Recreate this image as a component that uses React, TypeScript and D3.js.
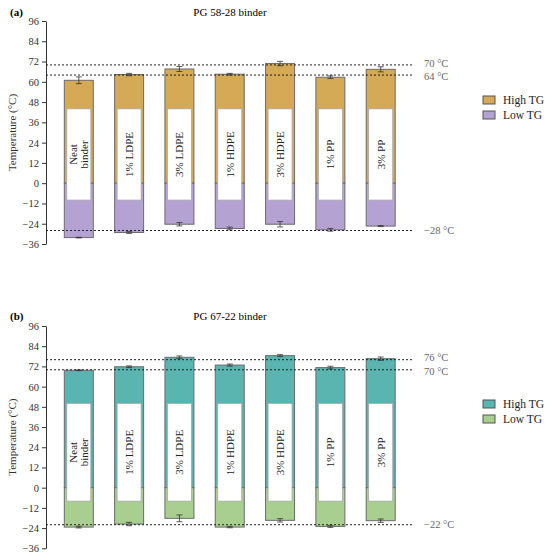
import React, { useEffect, useRef } from "react";
import * as d3 from "d3";

const categories = ["Neat binder", "1% LDPE", "3% LDPE", "1% HDPE", "3% HDPE", "1% PP", "3% PP"];
const yTicks = [-36, -24, -12, 0, 12, 24, 36, 48, 60, 72, 84, 96];

// PG 58-28
const highA = [60.9, 64.3, 67.6, 64.5, 70.8, 62.7, 67.4];
const highErrA = [2.0, 0.7, 1.5, 0.5, 1.3, 0.8, 1.5];
const lowA = [-32.2, -29.2, -24.3, -26.8, -24.3, -27.6, -25.4];
const lowErrA = [0.2, 0.5, 1.0, 0.8, 1.6, 0.8, 0.3];
const refA = [70, 64, -28];
const boxA = [-10, 44];

// PG 67-22
const highB = [69.7, 71.8, 77.4, 72.8, 78.4, 71.3, 76.6];
const highErrB = [0.2, 0.5, 0.8, 0.6, 0.6, 0.8, 1.0];
const lowB = [-23.4, -21.6, -18.2, -23.4, -19.4, -23.0, -19.6];
const lowErrB = [0.5, 1.0, 2.0, 0.4, 1.0, 0.6, 1.0];
const refB = [76, 70, -22];
const boxB = [-8, 50];

interface Panel {
  tag: string;
  title: string;
  high: number[];
  highErr: number[];
  low: number[];
  lowErr: number[];
  refs: number[];
  box: number[];
  top: number;
  bottom: number;
  titleY: number;
  legendY: number;
  highColor: string;
  lowColor: string;
}

const panels: Panel[] = [
  {
    tag: "(a)", title: "PG 58-28 binder", high: highA, highErr: highErrA, low: lowA, lowErr: lowErrA,
    refs: refA, box: boxA, top: 21, bottom: 244, titleY: 12, legendY: 100,
    highColor: "#d4aa57", lowColor: "#b4a3d2",
  },
  {
    tag: "(b)", title: "PG 67-22 binder", high: highB, highErr: highErrB, low: lowB, lowErr: lowErrB,
    refs: refB, box: boxB, top: 326, bottom: 548.3, titleY: 316, legendY: 404,
    highColor: "#5ab5b1", lowColor: "#a8cf90",
  },
];

const FONT = "'Liberation Serif', 'DejaVu Serif', serif";
// labels of the two upper reference lines are pushed apart a little
const refLabelShift = [-2, 1.5, 0];

const App: React.FC = () => {
  const svgRef = useRef<SVGSVGElement>(null);

  useEffect(() => {
    if (!svgRef.current) return;
    const root = d3.select(svgRef.current);
    root.selectAll("*").remove();

    const x = d3.scalePoint<string>().domain(categories).range([78.8, 380.7]);
    const barW = 29;
    const axisX = 46;

    panels.forEach(p => {
      const g = root.append("g").attr("font-family", FONT);
      const y = d3.scaleLinear().domain([-36, 96]).range([p.bottom, p.top]);

      // Panel tag and title
      g.append("text").attr("x", 10).attr("y", p.titleY).attr("dy", "0.35em")
        .attr("font-size", 11).attr("font-weight", "bold").text(p.tag);
      g.append("text").attr("x", 230).attr("y", p.titleY).attr("dy", "0.35em")
        .attr("text-anchor", "middle").attr("font-size", 11).text(p.title);

      // Y axis
      const axis = g.append("g")
        .attr("transform", `translate(${axisX},0)`)
        .call(d3.axisLeft(y).tickValues(yTicks).tickSize(4).tickSizeOuter(0).tickFormat(d3.format("d")));
      axis.select(".domain").attr("stroke", "#333");
      axis.selectAll(".tick line").attr("stroke", "#333");
      axis.selectAll(".tick text").attr("font-family", FONT).attr("font-size", 10.5).attr("fill", "#333");

      g.append("text")
        .attr("transform", `translate(12,${(p.top + p.bottom) / 2}) rotate(-90)`)
        .attr("text-anchor", "middle").attr("dy", "0.35em")
        .attr("font-size", 11).attr("fill", "#333")
        .text("Temperature (°C)");

      // Bars
      categories.forEach((c, i) => {
        const cx = x(c) as number;
        g.append("rect")
          .attr("x", cx - barW / 2).attr("y", y(p.high[i]))
          .attr("width", barW).attr("height", y(0) - y(p.high[i]))
          .attr("fill", p.highColor).attr("stroke", "#6b6b6b").attr("stroke-width", 1);
        g.append("rect")
          .attr("x", cx - barW / 2).attr("y", y(0))
          .attr("width", barW).attr("height", y(p.low[i]) - y(0))
          .attr("fill", p.lowColor).attr("stroke", "#6b6b6b").attr("stroke-width", 1);

        // Label box
        const bw = barW - 5;
        g.append("rect")
          .attr("x", cx - bw / 2).attr("y", y(p.box[1]))
          .attr("width", bw).attr("height", y(p.box[0]) - y(p.box[1]))
          .attr("fill", "#fff").attr("stroke", "#aaa").attr("stroke-width", 0.8);

        const lines = c === "Neat binder" ? ["Neat", "binder"] : [c];
        const midY = y((p.box[0] + p.box[1]) / 2);
        const t = g.append("text")
          .attr("transform", `translate(${cx},${midY}) rotate(-90)`)
          .attr("text-anchor", "middle").attr("font-size", 11).attr("fill", "#222");
        lines.forEach((l, j) => {
          t.append("tspan").attr("x", 0)
            .attr("dy", j === 0 ? (lines.length === 1 ? "0.35em" : "-0.15em") : "1em")
            .text(l);
        });

        // Error bars
        const whisker = (v: number, e: number) => {
          g.append("line").attr("x1", cx).attr("x2", cx)
            .attr("y1", y(v - e)).attr("y2", y(v + e))
            .attr("stroke", "#333").attr("stroke-width", 0.8);
          [v - e, v + e].forEach(w => {
            g.append("line").attr("x1", cx - 3).attr("x2", cx + 3)
              .attr("y1", y(w)).attr("y2", y(w))
              .attr("stroke", "#333").attr("stroke-width", 0.8);
          });
        };
        whisker(p.high[i], p.highErr[i]);
        whisker(p.low[i], p.lowErr[i]);
      });

      // Reference lines
      p.refs.forEach((r, k) => {
        g.append("line").attr("x1", axisX).attr("x2", 413)
          .attr("y1", y(r)).attr("y2", y(r))
          .attr("stroke", "#222").attr("stroke-width", 1).attr("stroke-dasharray", "2,2");
        g.append("text").attr("x", 424).attr("y", y(r) + refLabelShift[k]).attr("dy", "0.35em")
          .attr("font-size", 10.5).attr("fill", "#666")
          .text(`${r < 0 ? "\u2212" + Math.abs(r) : r} °C`);
      });

      // Legend
      [["High TG", p.highColor], ["Low TG", p.lowColor]].forEach(([label, color], j) => {
        const ly = p.legendY + j * 15;
        g.append("rect").attr("x", 483).attr("y", ly - 4).attr("width", 12).attr("height", 8)
          .attr("fill", color).attr("stroke", "#555").attr("stroke-width", 1);
        g.append("text").attr("x", 503).attr("y", ly).attr("dy", "0.35em")
          .attr("font-size", 11.5).attr("fill", "#222").text(label);
      });
    });
  }, []);

  return (
    <svg ref={svgRef} width={550} height={559}
      style={{ position: "absolute", left: 0, top: 0, background: "#fff" }} />
  );
};

export default App;
